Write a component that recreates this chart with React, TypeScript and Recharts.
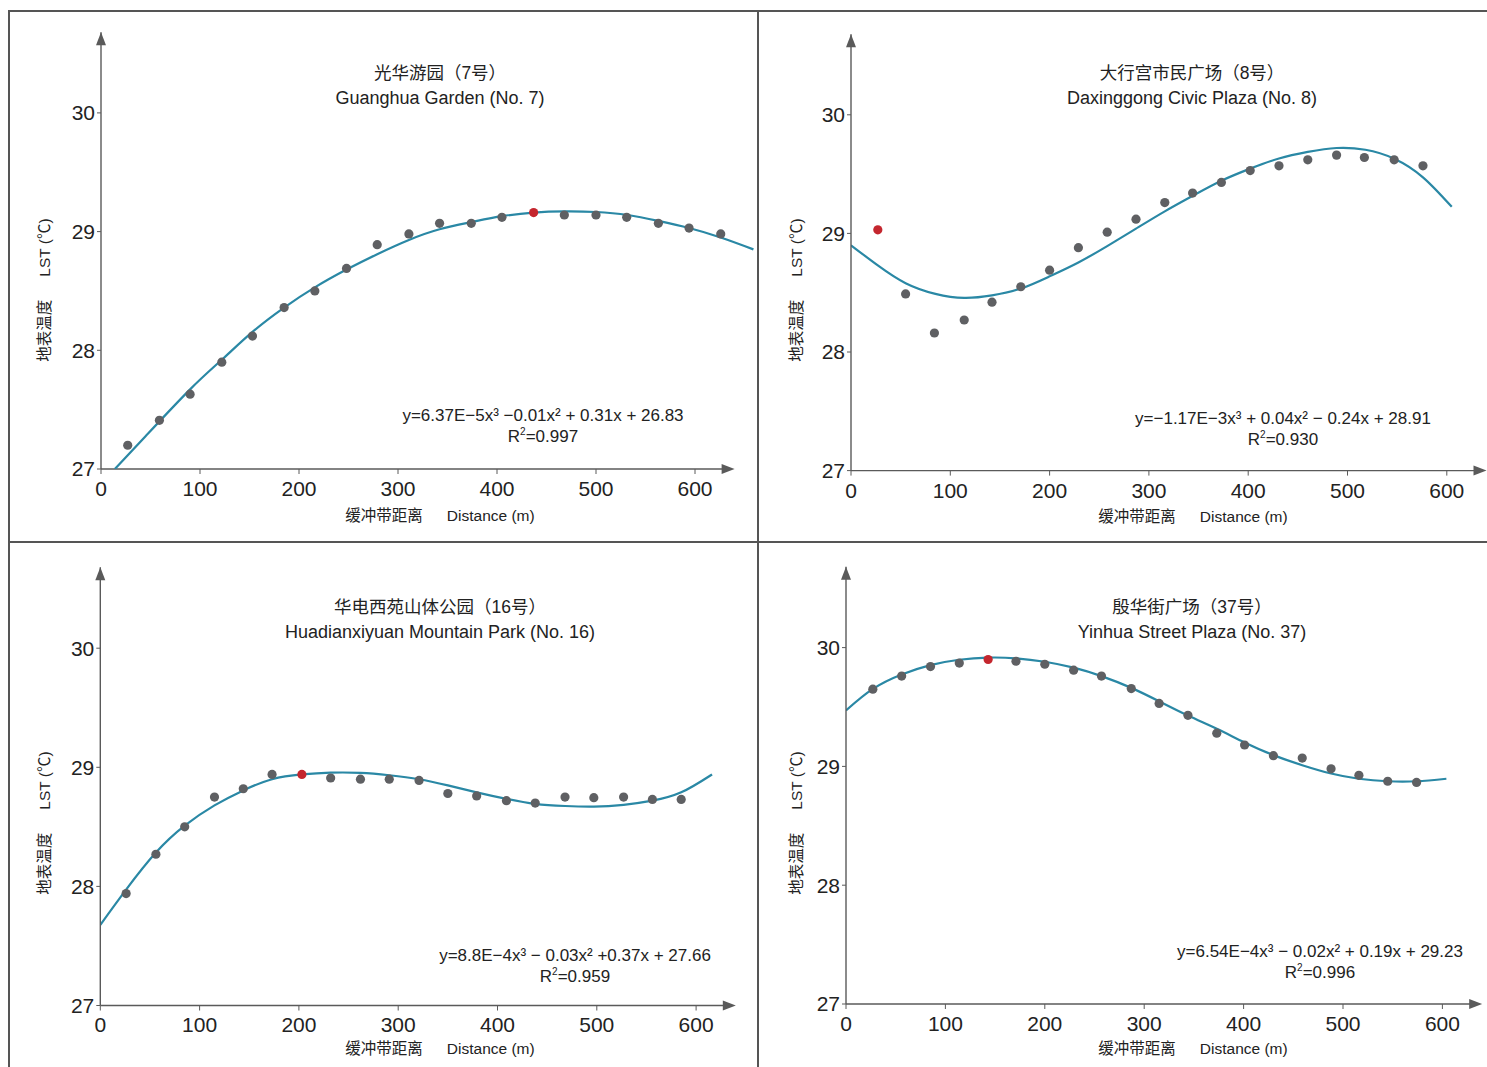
import React from 'react';
import { ComposedChart, XAxis, YAxis, Line, Scatter, ReferenceLine, ReferenceDot } from 'recharts';

const FONT = '"Liberation Sans", Arial, "Noto Sans CJK SC", sans-serif';
const AXIS = '#5a5a5a';
const CURVE = '#2a88a5';
const DOT = '#5f6063';
const RED = '#c4262e';
const TEXT = '#222';

const xTicks = [0, 100, 200, 300, 400, 500, 600];
const yTicks = [27, 28, 29, 30];
const Y_MAX = 30.68;
const ARROW_X = 640;
const Y_AXIS_W = 50;
const X_AXIS_H = 30;

// No. 7 Guanghua Garden
const dist7 = [27, 59, 90, 122, 153, 185, 216, 248, 279, 311, 342, 374, 405, 437, 468, 500, 531, 563, 594, 626];
const lst7 = [27.2, 27.41, 27.63, 27.9, 28.12, 28.36, 28.5, 28.69, 28.89, 28.98, 29.07, 29.07, 29.12, 29.16, 29.14, 29.14, 29.12, 29.07, 29.03, 28.98];
const hot7 = 13;
const fitX7 = [14, 45, 90, 122, 153, 185, 216, 248, 279, 311, 342, 374, 405, 437, 468, 500, 532, 563, 594, 626, 659];
const fitY7 = [27.0, 27.276, 27.671, 27.92, 28.155, 28.36, 28.53, 28.68, 28.81, 28.93, 29.02, 29.08, 29.13, 29.16, 29.17, 29.165, 29.14, 29.09, 29.03, 28.95, 28.85];

// No. 8 Daxinggong Civic Plaza
const dist8 = [27, 55, 84, 114, 142, 171, 200, 229, 258, 287, 316, 344, 373, 402, 431, 460, 489, 517, 547, 576];
const lst8 = [29.03, 28.49, 28.16, 28.27, 28.42, 28.55, 28.69, 28.88, 29.01, 29.12, 29.26, 29.34, 29.43, 29.53, 29.57, 29.62, 29.66, 29.64, 29.62, 29.57];
const hot8 = 0;
const fitX8 = [0, 27, 55, 85, 114, 142, 171, 200, 229, 258, 287, 316, 345, 373, 402, 431, 460, 489, 518, 547, 576, 605];
const fitY8 = [28.9, 28.73, 28.58, 28.49, 28.456, 28.477, 28.535, 28.638, 28.755, 28.893, 29.04, 29.186, 29.321, 29.444, 29.546, 29.632, 29.687, 29.72, 29.705, 29.63, 29.473, 29.224];

// No. 16 Huadianxiyuan Mountain Park
const dist16 = [26, 56, 85, 115, 144, 173, 203, 232, 262, 291, 321, 350, 379, 409, 438, 468, 497, 527, 556, 585];
const lst16 = [27.94, 28.27, 28.5, 28.75, 28.82, 28.94, 28.94, 28.91, 28.9, 28.9, 28.89, 28.78, 28.76, 28.72, 28.7, 28.75, 28.745, 28.75, 28.73, 28.73];
const hot16 = 6;
const fitX16 = [0, 26, 56, 85, 115, 144, 173, 203, 232, 262, 291, 321, 350, 379, 409, 438, 468, 497, 527, 556, 585, 616];
const fitY16 = [27.677, 27.973, 28.284, 28.51, 28.68, 28.806, 28.9, 28.94, 28.955, 28.953, 28.933, 28.9, 28.848, 28.79, 28.735, 28.693, 28.675, 28.67, 28.685, 28.72, 28.79, 28.94];

// No. 37 Yinhua Street Plaza
const dist37 = [27, 56, 85, 114, 143, 171, 200, 229, 257, 287, 315, 344, 373, 401, 430, 459, 488, 516, 545, 574];
const lst37 = [29.65, 29.76, 29.84, 29.87, 29.9, 29.885, 29.86, 29.81, 29.76, 29.655, 29.53, 29.43, 29.28, 29.18, 29.09, 29.07, 28.98, 28.925, 28.875, 28.865];
const hot37 = 4;
const fitX37 = [0, 27, 56, 85, 114, 143, 171, 200, 229, 257, 287, 315, 344, 373, 401, 430, 459, 488, 516, 545, 574, 604];
const fitY37 = [29.471, 29.652, 29.774, 29.853, 29.898, 29.916, 29.91, 29.881, 29.831, 29.76, 29.661, 29.548, 29.428, 29.316, 29.202, 29.095, 29.01, 28.94, 28.896, 28.875, 28.875, 28.896];

const panels = [
  {
    key: 'p7', nameCn: '光华游园（7号）', nameEn: 'Guanghua Garden (No. 7)',
    eq: 'y=6.37E−5x³ −0.01x² + 0.31x + 26.83', r2: '0.997',
    dist: dist7, lst: lst7, hot: hot7, fitX: fitX7, fitY: fitY7,
    box: { left: 9, top: 11, width: 748, height: 531 },
    axisX: 101, axisY: 469, pxM: 0.99, pxC: 118.7, xMax: 662,
    title: { x: 440, y: 74 }, eqPos: { x: 543, y: 415 }, xLab: { x: 440, y: 516 }, yLab: { x: 45, y: 290 },
  },
  {
    key: 'p8', nameCn: '大行宫市民广场（8号）', nameEn: 'Daxinggong Civic Plaza (No. 8)',
    eq: 'y=−1.17E−3x³ + 0.04x² − 0.24x + 28.91', r2: '0.930',
    dist: dist8, lst: lst8, hot: hot8, fitX: fitX8, fitY: fitY8,
    box: { left: 757, top: 11, width: 730, height: 531 },
    axisX: 851, axisY: 470.6, pxM: 0.993, pxC: 118.6, xMax: 640,
    title: { x: 1192, y: 74 }, eqPos: { x: 1283, y: 418 }, xLab: { x: 1193, y: 517 }, yLab: { x: 797, y: 290 },
  },
  {
    key: 'p16', nameCn: '华电西苑山体公园（16号）', nameEn: 'Huadianxiyuan Mountain Park (No. 16)',
    eq: 'y=8.8E−4x³ − 0.03x² +0.37x + 27.66', r2: '0.959',
    dist: dist16, lst: lst16, hot: hot16, fitX: fitX16, fitY: fitY16,
    box: { left: 9, top: 542, width: 748, height: 525 },
    axisX: 100.3, axisY: 1005.5, pxM: 0.993, pxC: 119.1, xMax: 640,
    title: { x: 440, y: 608 }, eqPos: { x: 575, y: 955 }, xLab: { x: 440, y: 1049 }, yLab: { x: 45, y: 823 },
  },
  {
    key: 'p37', nameCn: '殷华街广场（37号）', nameEn: 'Yinhua Street Plaza (No. 37)',
    eq: 'y=6.54E−4x³ − 0.02x² + 0.19x + 29.23', r2: '0.996',
    dist: dist37, lst: lst37, hot: hot37, fitX: fitX37, fitY: fitY37,
    box: { left: 757, top: 542, width: 730, height: 525 },
    axisX: 846, axisY: 1004, pxM: 0.994, pxC: 118.8, xMax: 640,
    title: { x: 1192, y: 608 }, eqPos: { x: 1320, y: 951 }, xLab: { x: 1193, y: 1049 }, yLab: { x: 797, y: 823 },
  },
];

const dotShape = (color: string) => (props: any) => (
  <circle cx={props.cx} cy={props.cy} r={4.6} fill={color} />
);

const arrowRight = (props: any) => {
  const { cx, cy } = props;
  return <polygon points={`${cx},${cy} ${cx - 13},${cy - 5} ${cx - 13},${cy + 5}`} fill={AXIS} />;
};

const arrowUp = (props: any) => {
  const { cx, cy } = props;
  return <polygon points={`${cx},${cy} ${cx - 5},${cy + 13} ${cx + 5},${cy + 13}`} fill={AXIS} />;
};

const abs = (x: number, y: number, extra: React.CSSProperties = {}): React.CSSProperties => ({
  position: 'absolute', left: x, top: y, transform: 'translate(-50%, -50%)', whiteSpace: 'nowrap',
  fontFamily: FONT, color: TEXT, lineHeight: 1, ...extra,
});

function Panel({ p }: { p: any }) {
  const { box } = p;
  const plotLeft = p.axisX - box.left;
  const plotTop = p.axisY - (Y_MAX - 27) * p.pxC - box.top;
  const plotBottom = p.axisY - box.top;
  const plotRight = p.axisX + p.xMax * p.pxM - box.left;
  const margin = {
    left: plotLeft - Y_AXIS_W,
    top: plotTop,
    right: box.width - plotRight,
    bottom: box.height - plotBottom - X_AXIS_H,
  };
  const pts = p.dist.map((d: number, i: number) => ({ x: d, y: p.lst[i] }));
  const gray = pts.filter((_: any, i: number) => i !== p.hot);
  const red = [pts[p.hot]];
  const fit = p.fitX.map((d: number, i: number) => ({ x: d, y: p.fitY[i] }));
  const tickStyle = { fontSize: 21, fill: TEXT, fontFamily: FONT };

  return (
    <>
      <div style={{ position: 'absolute', left: box.left, top: box.top }}>
        <ComposedChart width={box.width} height={box.height} margin={margin}>
          <XAxis type="number" dataKey="x" domain={[0, p.xMax]} allowDataOverflow ticks={xTicks} interval={0}
            axisLine={false} tickLine={{ stroke: AXIS }} tickSize={5} tickMargin={7} tick={tickStyle} height={X_AXIS_H} />
          <YAxis type="number" dataKey="y" domain={[27, Y_MAX]} allowDataOverflow ticks={yTicks} interval={0}
            axisLine={{ stroke: AXIS, strokeWidth: 1.4 }} tickLine={{ stroke: AXIS }} tickSize={4} tickMargin={2}
            tick={tickStyle} width={Y_AXIS_W} />
          <ReferenceLine segment={[{ x: 0, y: 27 }, { x: ARROW_X - 4, y: 27 }]} stroke={AXIS} strokeWidth={1.4} />
          <ReferenceDot x={ARROW_X} y={27} r={1} shape={arrowRight} />
          <ReferenceDot x={0} y={Y_MAX} r={1} shape={arrowUp} />
          <Line data={fit} dataKey="y" type="natural" stroke={CURVE} strokeWidth={2.2} dot={false}
            activeDot={false} isAnimationActive={false} />
          <Scatter data={gray} fill={DOT} shape={dotShape(DOT)} isAnimationActive={false} />
          <Scatter data={red} fill={RED} shape={dotShape(RED)} isAnimationActive={false} />
        </ComposedChart>
      </div>
      <div style={abs(p.title.x, p.title.y, { fontSize: 17.5 })}>{p.nameCn}</div>
      <div style={abs(p.title.x, p.title.y + 24, { fontSize: 18 })}>{p.nameEn}</div>
      <div style={abs(p.eqPos.x, p.eqPos.y, { fontSize: 17 })}>{p.eq}</div>
      <div style={abs(p.eqPos.x, p.eqPos.y + 21, { fontSize: 17 })}>R<sup style={{ fontSize: 10 }}>2</sup>=<span>{p.r2}</span></div>
      <div style={abs(p.xLab.x, p.xLab.y, { fontSize: 15.5 })}>
        <span>缓冲带距离</span><span style={{ marginLeft: 24 }}>Distance (m)</span>
      </div>
      <div style={abs(p.yLab.x, p.yLab.y, { fontSize: 15.5, transform: 'translate(-50%, -50%) rotate(-90deg)' })}>
        <span>地表温度</span><span style={{ marginLeft: 23 }}>LST (℃)</span>
      </div>
    </>
  );
}

export default function App() {
  const line = '#555';
  return (
    <div style={{ position: 'absolute', left: 0, top: 0, width: 1487, height: 1067, background: '#fff', overflow: 'hidden' }}>
      <div style={{ position: 'absolute', left: 8, top: 10, width: 1479, height: 1.5, background: line }} />
      <div style={{ position: 'absolute', left: 8, top: 10, width: 1.5, height: 1057, background: line }} />
      <div style={{ position: 'absolute', left: 757, top: 10, width: 1.5, height: 1057, background: line }} />
      <div style={{ position: 'absolute', left: 8, top: 541, width: 1479, height: 1.5, background: line }} />
      {panels.map((p) => (
        <Panel key={p.key} p={p} />
      ))}
    </div>
  );
}
